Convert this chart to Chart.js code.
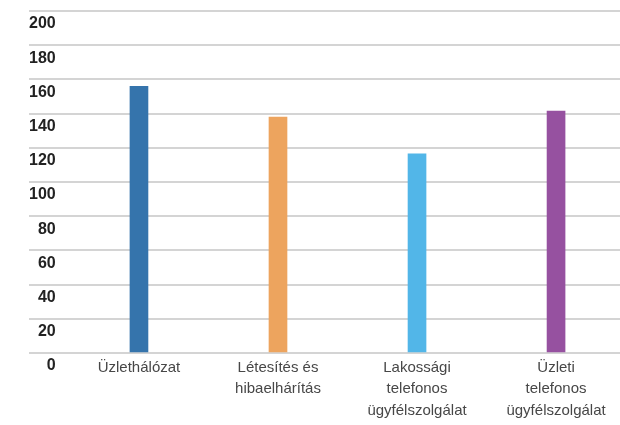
<!DOCTYPE html>
<html><head><meta charset="utf-8">
<script src="https://cdn.jsdelivr.net/npm/chart.js@4"></script>
<style>html,body{margin:0;padding:0;background:#fff;overflow:hidden}#wrap{width:620px;height:425px;position:relative}</style>
</head><body><div id="wrap"><canvas id="c" width="620" height="425"></canvas></div>
<script>
const categories = [["Üzlethálózat"], ["Létesítés és", "hibaelhárítás"], ["Lakossági", "telefonos", "ügyfélszolgálat"], ["Üzleti", "telefonos", "ügyfélszolgálat"]];
const values = [156, 138, 116.5, 141.5];
const barColors = ['#3574ac', '#eda45e', '#52b6e8', '#9651a0'];
const yMin = 0, yMax = 200, yStep = 20;

const points = values.map((v, i) => ({x: i, y: v}));

new Chart(document.getElementById('c'), {
  type: 'bar',
  data: {
    datasets: [{
      data: points,
      backgroundColor: barColors,
      borderWidth: 0,
      barThickness: 18
    }]
  },
  options: {
    responsive: false,
    animation: false,
    events: [],
    layout: {padding: {left: 29, top: 11, right: 0, bottom: 0}},
    plugins: {legend: {display: false}, tooltip: {enabled: false}},
    scales: {
      x: {
        type: 'linear',
        offset: false,
        min: -0.791,
        max: 3.46,
        grid: {display: false, drawTicks: false},
        border: {display: false},
        afterBuildTicks: s => { s.ticks = categories.map((_, i) => ({value: i})); },
        afterFit: s => { s.height = 72; },
        ticks: {
          autoSkip: false,
          maxRotation: 0,
          padding: 4,
          color: '#474747',
          font: {family: '"Liberation Sans", Arial, sans-serif', size: 15, lineHeight: 1.43},
          callback: v => categories[v]
        }
      },
      y: {
        min: yMin,
        max: yMax,
        grid: {color: '#d4d4d4', lineWidth: 2, drawTicks: false},
        border: {display: false},
        ticks: {
          stepSize: yStep,
          mirror: true,
          crossAlign: 'far',
          padding: 0,
          labelOffset: 13,
          color: '#222222',
          font: {family: '"Liberation Sans", Arial, sans-serif', size: 16, weight: 'bold'}
        }
      }
    }
  }
});
</script>
</body></html>
